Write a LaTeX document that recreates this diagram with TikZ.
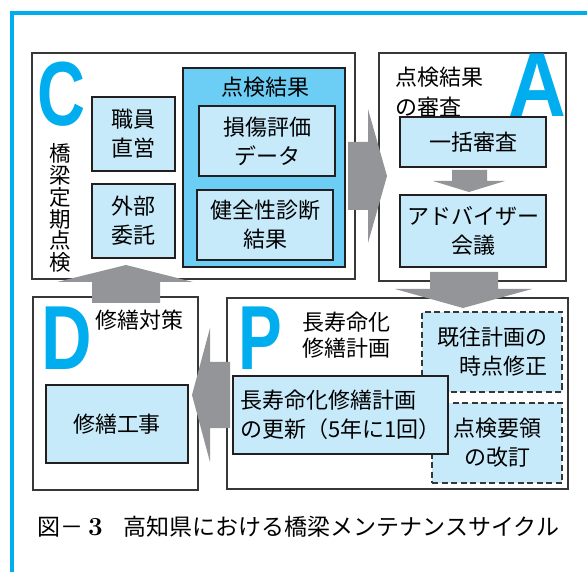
\documentclass[tikz,border=0pt]{standalone}
\usepackage{fontspec}
\usepackage{graphicx}
\usepackage{tikz}
\newfontfamily\jpfont{Noto Sans CJK JP}
\newfontfamily\pdcafont{Liberation Sans}
\definecolor{cyclecyan}{RGB}{0,174,239}
\definecolor{paleblue}{RGB}{199,234,250}
\definecolor{midblue}{RGB}{108,206,245}
\definecolor{arrowgray}{RGB}{147,149,152}
\definecolor{linegray}{RGB}{55,55,55}
\definecolor{boxline}{RGB}{35,31,32}

\begin{document}
\begin{tikzpicture}
  [
    x=1pt, y=-1pt,
    phasebox/.style={rectangle, draw=linegray, line width=1.3pt, fill=white, inner sep=0pt},
    itembox/.style={rectangle, draw=boxline, fill=paleblue, line width=1.8pt, inner sep=0pt, align=center, font=\jpfont\fontsize{22}{29}\selectfont},
    resultbox/.style={rectangle, draw=boxline, fill=midblue, line width=1.8pt, inner sep=0pt},
    planbox/.style={itembox, draw=linegray, line width=1.3pt, dash pattern=on 6pt off 3.5pt},
    jptext/.style={inner sep=0pt, font=\jpfont\fontsize{22}{29}\selectfont},
    letter/.style={inner sep=0pt, anchor=base, text=cyclecyan, font=\pdcafont\bfseries\fontsize{91}{91}\selectfont},
    fatarrow/.style={fill=arrowgray},
  ]

  \useasboundingbox (0,0) rectangle (587,572);

  % outer frame
  \draw[cyclecyan, line width=3.2pt] (12,572) -- (12,13) -- (587,13);

  % C : inspection
  \node[phasebox, minimum width=323pt, minimum height=226pt] (checkphase) at (193.5,166) {};
  \node[letter] (checkletter) at (61,126) {\scalebox{0.73}[1]{C}};
  \node[jptext, align=center, font=\jpfont\fontsize{21.5}{21.8}\selectfont] (checktitle) at (60,208) {橋\\梁\\定\\期\\点\\検};
  \node[itembox, minimum width=83pt, minimum height=74pt] (staff) at (133.5,134) {職員\\直営};
  \node[itembox, minimum width=83pt, minimum height=74pt] (outsource) at (133.5,221) {外部\\委託};
  \node[resultbox, minimum width=162pt, minimum height=199pt] (results) at (264,167.5) {};
  \node[jptext] (resultstitle) at (265,87) {点検結果};
  \node[itembox, minimum width=136pt, minimum height=70pt] (damage) at (267,141) {損傷評価\\データ};
  \node[itembox, minimum width=136pt, minimum height=70pt] (health) at (265,225) {健全性診断\\結果};

  % A : review
  \node[phasebox, minimum width=187pt, minimum height=228pt] (reviewphase) at (472.5,167) {};
  \node[letter] (reviewletter) at (537,117) {\scalebox{0.88}[1]{A}};
  \node[jptext, anchor=west, align=left, font=\jpfont\fontsize{22}{30}\selectfont] (reviewtitle) at (395,92) {点検結果\\の審査};
  \node[itembox, minimum width=146pt, minimum height=50pt] (batch) at (473,142) {一括審査};
  \node[itembox, minimum width=146pt, minimum height=72pt] (advisor) at (473,231) {アドバイザー\\会議};

  % D : repair
  \node[phasebox, minimum width=165pt, minimum height=193pt] (repairphase) at (115.5,393.5) {};
  \node[letter] (repairletter) at (67,370) {\scalebox{0.77}[1]{D}};
  \node[jptext] (repairtitle) at (139.5,320) {修繕対策};
  \node[itembox, minimum width=142pt, minimum height=78pt] (works) at (117,424) {修繕工事};

  % P : plan
  \node[phasebox, minimum width=341pt, minimum height=191pt] (planphase) at (397.5,393.5) {};
  \node[letter] (planletter) at (260,370) {\scalebox{0.72}[1]{P}};
  \node[jptext, anchor=west, align=left, font=\jpfont\fontsize{22}{26}\selectfont] (plantitle) at (302,335) {長寿命化\\修繕計画};
  \node[planbox, minimum width=140pt, minimum height=80pt, align=right] (revise) at (492,352) {既往計画の\\時点修正};
  \node[planbox, minimum width=130pt, minimum height=80pt] (manual) at (497,443) {点検要領\\の改訂};
  \node[itembox, minimum width=215pt, minimum height=78pt, align=left] (update) at (340.5,415) {長寿命化修繕計画\\の更新（5年に1回）};

  % cycle arrows
  \fill[fatarrow] (348,142) -- (368,142) -- (368,109) -- (387,176) -- (368,243) -- (368,210) -- (348,210) -- cycle;
  \fill[fatarrow] (452,170) -- (487,170) -- (487,181) -- (505,181) -- (469,192) -- (433,181) -- (452,181) -- cycle;
  \fill[fatarrow] (430,272) -- (498,272) -- (498,289) -- (532,289) -- (463,308) -- (395,289) -- (430,289) -- cycle;
  \fill[fatarrow] (230,362) -- (210,362) -- (210,328) -- (192,395) -- (210,462) -- (210,428) -- (230,428) -- cycle;
  \fill[fatarrow] (92,303) -- (92,282) -- (57,282) -- (126,265) -- (193,282) -- (160,282) -- (160,303) -- cycle;

  % caption
  \node[jptext, anchor=west, font=\jpfont\fontsize{23}{24}\selectfont] (caption) at (37,527)
    {図－\hspace{5pt}{\normalfont\bfseries\fontsize{26}{26}\selectfont 3}\hspace{21pt}高知県における橋梁メンテナンスサイクル};

\end{tikzpicture}
\end{document}
